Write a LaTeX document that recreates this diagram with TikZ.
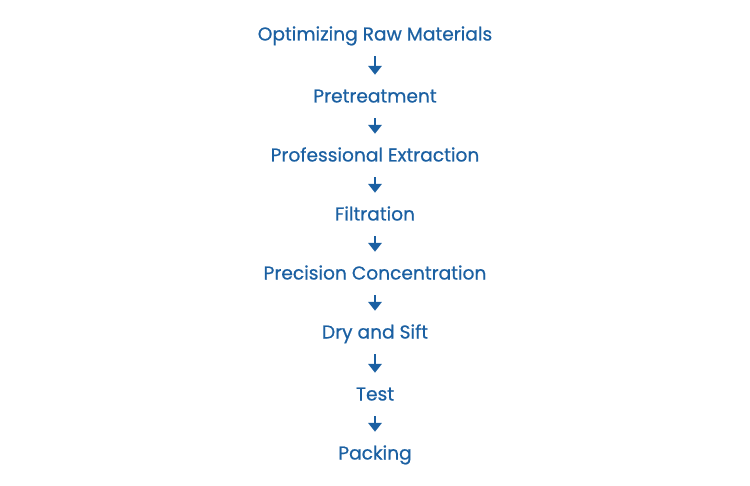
\documentclass[tikz,border=0pt]{standalone}
\usepackage{fontspec}
\setmainfont{Poppins}
\newfontfamily\stepfont[FakeBold=0.6]{Poppins}
\usetikzlibrary{arrows.meta}
\definecolor{stepblue}{RGB}{27,96,162}

\tikzset{
  stepnode/.style={anchor=base, inner sep=0pt, text height=8pt, text depth=2.5pt,
    text=stepblue, font=\stepfont\fontsize{10.6}{12}\selectfont},
  steparrow/.style={stepblue, line width=1.7pt, -{Triangle[width=7.5pt,length=5pt]}, shorten <=6.2pt, shorten >=7.6pt}
}

\begin{document}
\begin{tikzpicture}[x=0.02cm, y=-0.02cm]
\useasboundingbox (0,0) rectangle (750,486);

\node[stepnode] (raw)    at (375, 40.5) {Optimizing Raw Materials};
\node[stepnode] (pre)    at (375,102.5) {Pretreatment};
\node[stepnode] (extr)   at (375,161.5) {Professional Extraction};
\node[stepnode] (filt)   at (375,220.5) {Filtration};
\node[stepnode] (conc)   at (375,279.5) {Precision Concentration};
\node[stepnode] (dry)    at (375,338.5) {Dry and Sift};
\node[stepnode] (test)   at (375,400.5) {Test};
\node[stepnode] (pack)   at (375,459.5) {Packing};

\draw[steparrow] (raw) -- (pre);
\draw[steparrow] (pre) -- (extr);
\draw[steparrow] (extr) -- (filt);
\draw[steparrow] (filt) -- (conc);
\draw[steparrow] (conc) -- (dry);
\draw[steparrow] (dry) -- (test);
\draw[steparrow] (test) -- (pack);

\end{tikzpicture}
\end{document}
